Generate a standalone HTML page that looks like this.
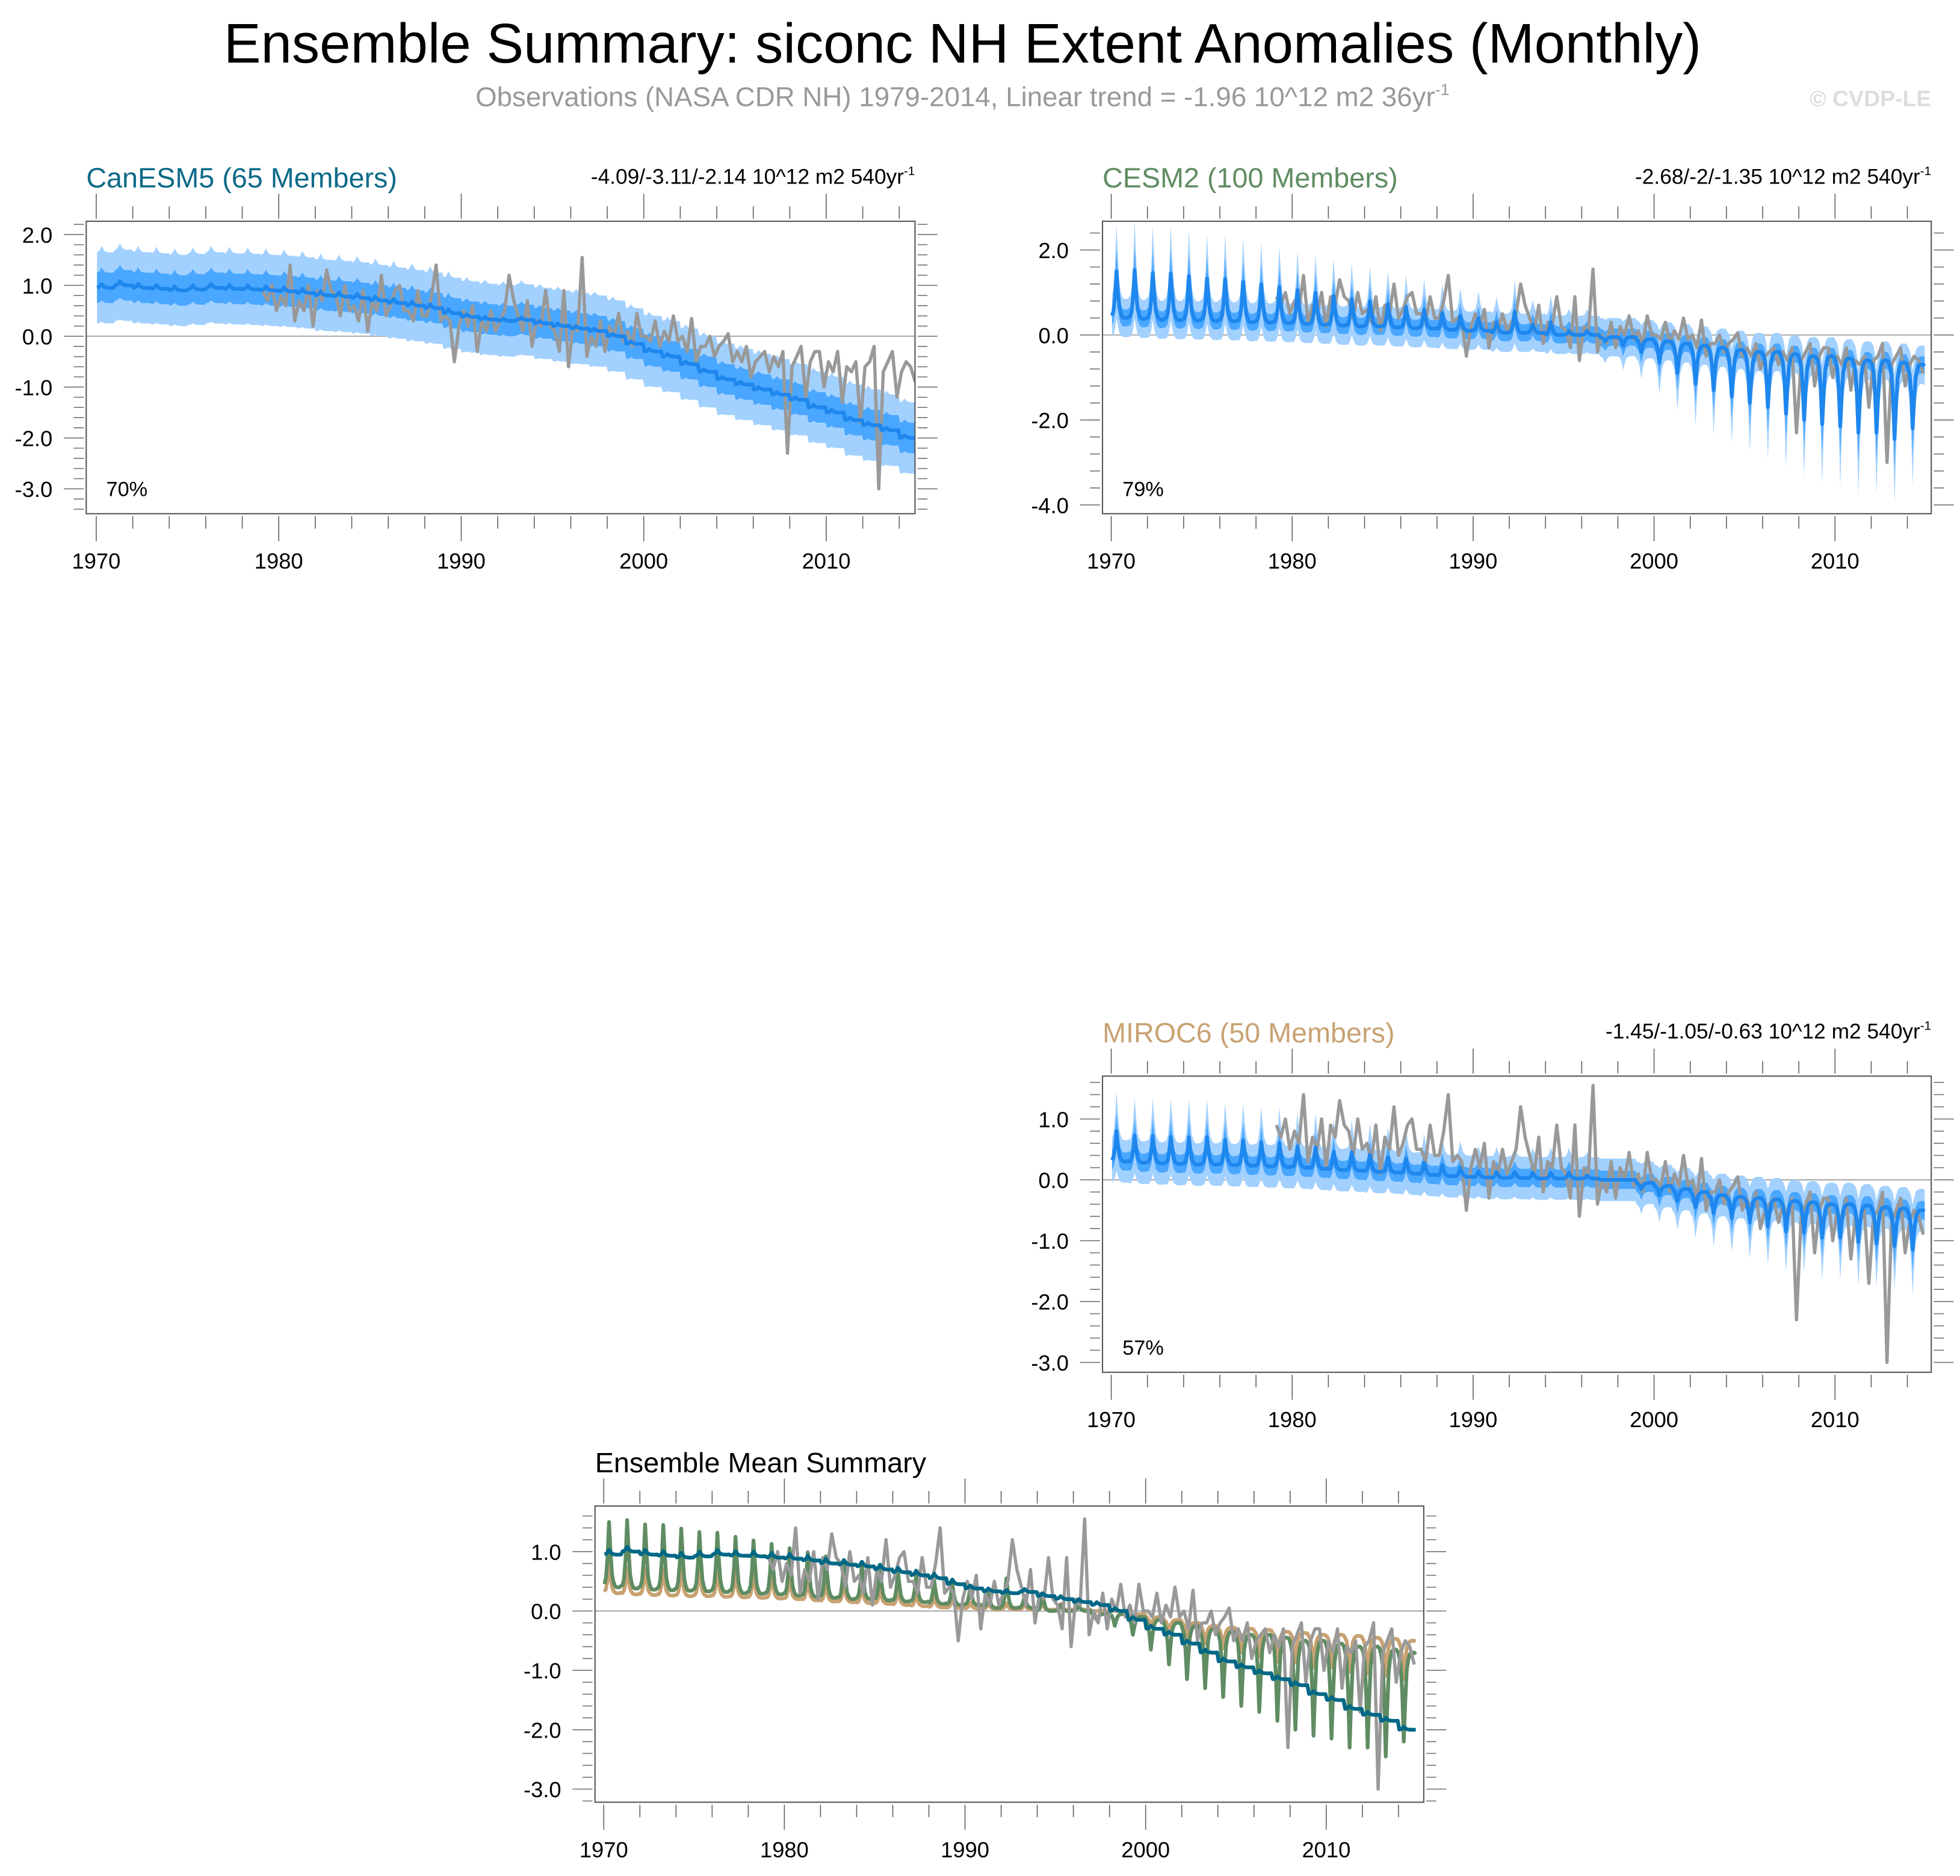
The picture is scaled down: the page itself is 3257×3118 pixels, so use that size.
<!DOCTYPE html>
<html><head><meta charset="utf-8">
<style>html,body{margin:0;padding:0;background:#fff}svg{display:block}</style>
</head><body>
<svg id="fig" xmlns="http://www.w3.org/2000/svg" width="3257" height="3118" viewBox="0 0 1568 1501" font-family="'Liberation Sans', sans-serif">
<text x="770" y="50" font-size="44.5" text-anchor="middle" fill="#000">Ensemble Summary: siconc NH Extent Anomalies (Monthly)</text>
<text x="770" y="85" font-size="22" text-anchor="middle" fill="#999">Observations (NASA CDR NH) 1979-2014, Linear trend = -1.96 10^12 m2 36yr<tspan font-size="13" dy="-9">-1</tspan></text>
<text x="1545" y="85" font-size="18" font-weight="bold" text-anchor="end" fill="#ddd">© CVDP-LE</text>
</svg>
<script>
// ---- data ----
const years = [1970,1971,1972,1973,1974,1975,1976,1977,1978,1979,1980,1981,1982,1983,1984,1985,1986,1987,1988,1989,1990,1991,1992,1993,1994,1995,1996,1997,1998,1999,2000,2001,2002,2003,2004,2005,2006,2007,2008,2009,2010,2011,2012,2013,2014];
const canBase = [0.95,1.0,0.95,0.93,0.9,0.92,0.95,0.93,0.92,0.9,0.88,0.85,0.8,0.78,0.75,0.7,0.65,0.6,0.55,0.45,0.38,0.33,0.3,0.32,0.25,0.2,0.15,0.1,0.0,-0.15,-0.3,-0.4,-0.55,-0.7,-0.85,-0.95,-1.05,-1.15,-1.25,-1.4,-1.5,-1.65,-1.75,-1.85,-2.0];
const canSpike = [0.08,0.08,0.08,0.08,0.08,0.08,0.08,0.08,0.08,0.08,0.08,0.08,0.08,0.08,0.08,0.08,0.08,0.08,0.08,0.08,0.05,0.05,0.05,0.05,0.05,0.05,0.05,0.05,0.05,0.05,0.05,0.05,0.05,0.05,0.05,0.05,0.05,0.05,0.05,0.05,0.05,0.05,0.05,0.05,0.05];
const cesmBase = [0.4,0.38,0.36,0.35,0.34,0.33,0.32,0.3,0.29,0.28,0.26,0.24,0.22,0.2,0.2,0.18,0.16,0.15,0.12,0.1,0.1,0.05,0.05,0.05,0.0,0.0,0.0,-0.05,-0.05,-0.1,-0.15,-0.2,-0.25,-0.3,-0.35,-0.4,-0.4,-0.45,-0.5,-0.5,-0.55,-0.6,-0.6,-0.65,-0.7];
const cesmSpike = [1.1,1.15,1.1,1.1,1.05,1.0,1.0,0.95,0.9,0.85,0.8,0.75,0.7,0.65,0.6,0.55,0.5,0.45,0.4,0.35,0.3,0.25,0.5,0.2,0.3,0.1,0.1,-0.1,-0.2,-0.3,-0.5,-0.7,-0.9,-1.0,-1.1,-1.2,-1.3,-1.4,-1.5,-1.6,-1.6,-1.7,-1.7,-1.8,-1.5];
const mirBase = [0.3,0.28,0.27,0.26,0.25,0.25,0.24,0.23,0.22,0.21,0.2,0.18,0.16,0.15,0.13,0.12,0.1,0.08,0.06,0.05,0.04,0.03,0.03,0.02,0.02,0.02,0.02,0.0,0.0,-0.05,-0.1,-0.15,-0.2,-0.25,-0.28,-0.3,-0.32,-0.35,-0.37,-0.4,-0.4,-0.42,-0.45,-0.47,-0.5];
const mirSpike = [0.5,0.45,0.45,0.45,0.45,0.45,0.42,0.42,0.4,0.4,0.35,0.35,0.3,0.3,0.28,0.25,0.25,0.2,0.18,0.15,0.1,0.1,0.1,0.1,0.1,0.1,0.05,0.0,0.0,-0.1,-0.15,-0.2,-0.25,-0.3,-0.35,-0.4,-0.45,-0.5,-0.5,-0.55,-0.55,-0.6,-0.6,-0.62,-0.65];
const seasonShape = [0.05,0.15,0.45,1.0,0.55,0.2,0.08,0.02,0.0,0.0,0.0,0.02];
const obsYears = [1979,1980,1981,1982,1983,1984,1985,1986,1987,1988,1989,1990,1991,1992,1993,1994,1995,1996,1997,1998,1999,2000,2001,2002,2003,2004,2005,2006,2007,2008,2009,2010,2011,2012,2013,2014];
const obsQuarterly = [
0.9,0.7,1.0,0.5, 0.8,0.6,1.4,0.3, 0.7,0.5,1.0,0.2, 0.9,0.7,1.3,0.9, 0.8,0.4,1.0,0.5,
0.6,0.3,0.9,0.1, 0.7,0.5,1.2,0.4, 0.6,0.9,1.0,0.5, 0.5,0.3,0.9,0.4, 0.4,0.8,1.4,0.3,
0.4,0.3,-0.5,0.2, 0.5,0.2,0.6,-0.3, 0.3,0.1,0.5,0.1, 0.3,0.5,1.2,0.7, 0.4,0.1,0.7,-0.2,
0.3,0.2,0.9,0.2, 0.1,-0.3,0.9,-0.6, 0.2,0.1,1.55,-0.4, 0.0,-0.2,0.3,-0.3, 0.2,0.0,0.45,-0.1,
0.1,-0.2,0.45,0.0, 0.0,-0.1,0.3,-0.2, 0.1,-0.1,0.4,-0.1, 0.0,-0.3,0.35,-0.5, -0.2,-0.2,0.0,-0.4,
-0.2,-0.1,0.05,-0.5, -0.3,-0.5,-0.2,-0.8, -0.5,-0.4,-0.3,-0.7, -0.4,-0.6,-0.3,-2.3, -0.6,-0.4,-0.2,-1.2,
-0.5,-0.3,-0.3,-1.0, -0.5,-0.7,-0.3,-1.3, -0.6,-0.7,-0.5,-1.7, -0.6,-0.5,-0.2,-3.0, -0.7,-0.5,-0.3,-1.2,
-0.7,-0.5,-0.6,-0.9];
const xTickLabels = ["1970","1980","1990","2000","2010"];
const canInner = 0.3, canOuter = 0.7;
const cesmInner = 0.2, cesmOuter = 0.45;
const mirInner = 0.15, mirOuter = 0.35;

// ---- drawing ----
const NS = "http://www.w3.org/2000/svg";
const svg = document.getElementById('fig');
function mk(tag, attrs, parent){ const e=document.createElementNS(NS,tag); for(const k in attrs) e.setAttribute(k,attrs[k]); (parent||svg).appendChild(e); return e; }

function series(base, spike){
  const out=[];
  years.forEach((y,k)=>{ for(let m=0;m<12;m++){ out.push({t:y+(m+0.5)/12, v: base[k]+spike[k]*seasonShape[m], s: Math.abs(spike[k])*seasonShape[m]}); } });
  return out;
}
function obsSeries(){
  const out=[];
  obsYears.forEach((y,k)=>{ for(let q=0;q<4;q++) out.push({t:y+0.125+q*0.25, v:obsQuarterly[k*4+q]}); });
  return out;
}

function panel(cfg){
  const g = mk('g',{});
  
  
  const X = t => cfg.x0 + (t-1970)/40*(cfg.x2010-cfg.x0);
  const Y = v => cfg.yZero - v*cfg.ppu;
  const clip = 'clip-'+cfg.name;
  const cp = mk('clipPath',{id:clip},g); mk('rect',{x:cfg.bx,y:cfg.by,width:cfg.bw,height:cfg.bh},cp);
  const pg = mk('g',{'clip-path':'url(#'+clip+')'},g);
  function band(sr, w, sc, color, nm){
    const up = sr.map(p=>X(p.t).toFixed(1)+','+Y(p.v+w+sc*p.s).toFixed(1));
    const dn = sr.slice().reverse().map(p=>X(p.t).toFixed(1)+','+Y(p.v-w-sc*p.s).toFixed(1));
    const e = mk('polygon',{points:up.concat(dn).join(' '),fill:color},pg);
    
    
  }
  function line(sr, color, width, nm){
    const e = mk('polyline',{points:sr.map(p=>X(p.t).toFixed(1)+','+Y(p.v).toFixed(1)).join(' '),fill:'none',stroke:color,'stroke-width':width,'stroke-linejoin':'round'},pg);
    
    
  }
  mk('line',{x1:cfg.bx,x2:cfg.bx+cfg.bw,y1:Y(0),y2:Y(0),stroke:'#aaa','stroke-width':1},pg);
  if(cfg.model){
    const sr = series(cfg.model.base, cfg.model.spike);
    band(sr, cfg.model.outer, 0.6, '#a3d1ff', 'outer-spread-band');
    band(sr, cfg.model.inner, 0.3, '#4aa7ff', 'inner-spread-band');
    line(obsSeries(), '#999', 2.6, 'observations-line');
    line(sr, '#1e87ee', 3, 'ensemble-mean-line');
  } else {
    line(series(mirBase,mirSpike), '#c8a272', 3, 'miroc6-mean-line');
    line(series(cesmBase,cesmSpike), '#5f8c62', 3, 'cesm2-mean-line');
    line(obsSeries(), '#999', 2.6, 'observations-line');
    line(series(canBase,canSpike), '#006886', 3, 'canesm5-mean-line');
  }
  mk('rect',{x:cfg.bx,y:cfg.by,width:cfg.bw,height:cfg.bh,fill:'none',stroke:'#555','stroke-width':1},g);
  for(let yr=1970; yr<=2014; yr+=2){
    const x=X(yr), L=(yr%10===0)?20:10;
    mk('line',{x1:x,x2:x,y1:cfg.by+cfg.bh+2,y2:cfg.by+cfg.bh+2+L,stroke:'#666','stroke-width':0.8},g);
    mk('line',{x1:x,x2:x,y1:cfg.by-2,y2:cfg.by-2-L,stroke:'#666','stroke-width':0.8},g);
  }
  xTickLabels.forEach((lab,i)=>{
    const t = mk('text',{x:X(1970+i*10),y:cfg.by+cfg.bh+44,'font-size':17.5,'text-anchor':'middle'},g);
    t.textContent=lab;
    
    
  });
  const vmin = (cfg.by+cfg.bh-cfg.yZero)/-cfg.ppu, vmax=(cfg.yZero-cfg.by)/cfg.ppu;
  for(let k=Math.ceil(vmin/cfg.minor-1e-6); k*cfg.minor<=vmax+1e-6; k++){
    const v=k*cfg.minor, y=Y(v), maj=Math.abs(v/cfg.major-Math.round(v/cfg.major))<1e-6, L=maj?16:8;
    mk('line',{x1:cfg.bx-2,x2:cfg.bx-2-L,y1:y,y2:y,stroke:'#777','stroke-width':0.8},g);
    mk('line',{x1:cfg.bx+cfg.bw+2,x2:cfg.bx+cfg.bw+2+L,y1:y,y2:y,stroke:'#777','stroke-width':0.8},g);
  }
  cfg.yLabels.forEach(v=>{
    const t=mk('text',{x:cfg.bx-27,y:Y(v)+6.5,'font-size':17.5,'text-anchor':'end'},g);
    t.textContent=v.toFixed(1);
    
    
  });
  if(cfg.title){
    const t=mk('text',{x:cfg.bx,y:cfg.by-27,'font-size':22.5,fill:cfg.titleColor},g); t.textContent=cfg.title;
    
    
  }
  if(cfg.trend){
    const t=mk('text',{x:cfg.bx+cfg.bw,y:cfg.by-30,'font-size':17,'text-anchor':'end'},g);
    t.innerHTML=cfg.trend+'<tspan font-size="10" dy="-7">-1</tspan>';
    
    
  }
  if(cfg.pct){
    const t=mk('text',{x:cfg.bx+16,y:cfg.by+cfg.bh-14,'font-size':16.5},g); t.textContent=cfg.pct;
    
    
  }
}

panel({name:'canesm5-panel',bx:69,by:177,bw:663,bh:234,x0:77,x2010:661,yZero:269,ppu:40.7,major:1,minor:0.2,
  yLabels:[2,1,0,-1,-2,-3],title:'CanESM5 (65 Members)',titleColor:'#0c6a88',
  trend:'-4.09/-3.11/-2.14 10^12 m2 540yr',pct:'70%',
  model:{base:canBase,spike:canSpike,inner:canInner,outer:canOuter}});
panel({name:'cesm2-panel',bx:882,by:177,bw:663,bh:234,x0:889,x2010:1468,yZero:268,ppu:34,major:2,minor:0.4,
  yLabels:[2,0,-2,-4],title:'CESM2 (100 Members)',titleColor:'#5f8c62',
  trend:'-2.68/-2/-1.35 10^12 m2 540yr',pct:'79%',
  model:{base:cesmBase,spike:cesmSpike,inner:cesmInner,outer:cesmOuter}});
panel({name:'miroc6-panel',bx:882,by:861,bw:663,bh:237,x0:889,x2010:1468,yZero:944,ppu:48.7,major:1,minor:0.2,
  yLabels:[1,0,-1,-2,-3],title:'MIROC6 (50 Members)',titleColor:'#c8a272',
  trend:'-1.45/-1.05/-0.63 10^12 m2 540yr',pct:'57%',
  model:{base:mirBase,spike:mirSpike,inner:mirInner,outer:mirOuter}});
panel({name:'ensemble-mean-panel',bx:476,by:1205,bw:663,bh:237,x0:483,x2010:1061,yZero:1289,ppu:47.5,major:1,minor:0.2,
  yLabels:[1,0,-1,-2,-3],title:'Ensemble Mean Summary',titleColor:'#000'});
</script>
</body></html>
